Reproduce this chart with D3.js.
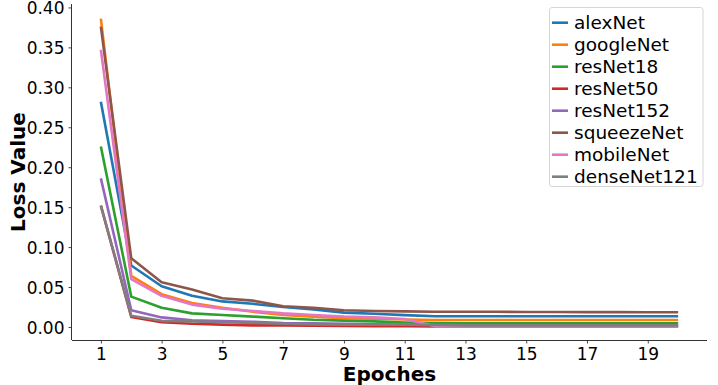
<!DOCTYPE html>
<html>
<head>
<meta charset="utf-8">
<script src="https://cdn.jsdelivr.net/npm/d3@7"></script>
<style>
  html, body { margin: 0; padding: 0; background: #fff; }
  svg { display: block; }
</style>
</head>
<body>
<svg id="chart" width="718" height="385"></svg>
<script>
const epochs = d3.range(1, 21);
const xTicks = [1, 3, 5, 7, 9, 11, 13, 15, 17, 19];
const yTicks = [0, 0.05, 0.10, 0.15, 0.20, 0.25, 0.30, 0.35, 0.40];
const seriesNames = ["alexNet", "googleNet", "resNet18", "resNet50", "resNet152", "squeezeNet", "mobileNet", "denseNet121"];
const colors = ["#1f77b4", "#ff7f0e", "#2ca02c", "#d62728", "#9467bd", "#8c564b", "#e377c2", "#7f7f7f"];

const alexNet     = [0.282, 0.077, 0.051, 0.039, 0.032, 0.029, 0.025, 0.022, 0.018, 0.0165, 0.0148, 0.0135, 0.0135, 0.0135, 0.0135, 0.0135, 0.0135, 0.0135, 0.0135, 0.0135];
const googleNet   = [0.386, 0.064, 0.041, 0.030, 0.024, 0.019, 0.015, 0.013, 0.011, 0.0105, 0.0094, 0.0088, 0.0087, 0.0087, 0.0087, 0.0087, 0.0087, 0.0087, 0.0087, 0.0087];
const resNet18    = [0.226, 0.038, 0.024, 0.017, 0.015, 0.013, 0.011, 0.009, 0.008, 0.007, 0.0056, 0.0048, 0.0046, 0.0045, 0.0045, 0.0045, 0.0045, 0.0045, 0.0045, 0.0045];
const resNet50    = [0.152, 0.0125, 0.006, 0.004, 0.003, 0.002, 0.002, 0.0015, 0.0012, 0.001, 0.001, 0.0008, 0.0008, 0.0008, 0.0008, 0.0008, 0.0008, 0.0008, 0.0008, 0.0008];
const resNet152   = [0.186, 0.021, 0.012, 0.0085, 0.0075, 0.0065, 0.005, 0.0045, 0.004, 0.0035, 0.003, 0.0025, 0.002, 0.002, 0.002, 0.002, 0.002, 0.002, 0.002, 0.002];
const squeezeNet  = [0.376, 0.086, 0.056, 0.047, 0.036, 0.033, 0.026, 0.024, 0.021, 0.020, 0.0195, 0.019, 0.019, 0.019, 0.0188, 0.0188, 0.0186, 0.0186, 0.0185, 0.0185];
const mobileNet   = [0.347, 0.060, 0.039, 0.028, 0.023, 0.020, 0.017, 0.015, 0.013, 0.012, 0.010, 0.0008, 0.0006, 0.0006, 0.0006, 0.0006, 0.0006, 0.0006, 0.0006, 0.0006];
const denseNet121 = [0.152, 0.014, 0.0077, 0.007, 0.006, 0.005, 0.004, 0.0032, 0.003, 0.003, 0.0028, 0.0025, 0.002, 0.002, 0.002, 0.002, 0.002, 0.002, 0.002, 0.002];

const seriesValues = [alexNet, googleNet, resNet18, resNet50, resNet152, squeezeNet, mobileNet, denseNet121];

const svg = d3.select("#chart");
const mLeft = 72, mRight = 707, mTop = 4, mBottom = 340;

const x = d3.scaleLinear().domain([0.05, 20.95]).range([mLeft, mRight]);
const y = d3.scaleLinear().domain([-0.0163, 0.4043]).range([mBottom, mTop]);

const font = "DejaVu Sans, sans-serif";
const axisColor = "#333";

// Lines
const line = d3.line().x((d, i) => x(epochs[i])).y(d => y(d));
const g = svg.append("g");
seriesValues.forEach((vals, k) => {
  g.append("path")
    .datum(vals)
    .attr("fill", "none")
    .attr("stroke", colors[k])
    .attr("stroke-width", 2.6)
    .attr("stroke-linejoin", "round")
    .attr("stroke-linecap", "butt")
    .attr("d", line);
});

// Axes
const xAxis = d3.axisBottom(x).tickValues(xTicks).tickFormat(d3.format("d")).tickSize(3.5).tickPadding(4);
const yAxis = d3.axisLeft(y).tickValues(yTicks).tickFormat(d3.format(".2f")).tickSize(3.5).tickPadding(4);

const gx = svg.append("g").attr("transform", `translate(0,${mBottom})`).call(xAxis);
const gy = svg.append("g").attr("transform", `translate(${mLeft},0)`).call(yAxis);

gx.select(".domain").attr("stroke", axisColor).attr("stroke-width", 1).attr("d", `M${mLeft},0.5H${mRight}`);
gy.select(".domain").attr("stroke", axisColor).attr("stroke-width", 1).attr("d", `M-0.5,${mTop}V${mBottom}`);
[gx, gy].forEach(a => {
  a.selectAll(".tick line").attr("stroke", axisColor).attr("stroke-width", 0.9);
  a.selectAll(".tick text").attr("fill", "#000").style("font-family", font).style("font-size", "17px");
});
gx.selectAll(".tick text").attr("dy", "0.72em");
gy.selectAll(".tick text").attr("dy", "0.36em");

// Axis labels
svg.append("text")
  .attr("x", (mLeft + mRight) / 2).attr("y", 381)
  .attr("text-anchor", "middle")
  .style("font-family", font).style("font-size", "20px").style("font-weight", "bold")
  .text("Epoches");

svg.append("text")
  .attr("transform", `translate(25,${(mTop + mBottom) / 2}) rotate(-90)`)
  .attr("text-anchor", "middle")
  .style("font-family", font).style("font-size", "20px").style("font-weight", "bold")
  .text("Loss Value");

// Legend
const lg = svg.append("g");
lg.append("rect")
  .attr("x", 549.5).attr("y", 7.5).attr("width", 153.5).attr("height", 179)
  .attr("rx", 2.5)
  .attr("fill", "#fff").attr("fill-opacity", 0.8)
  .attr("stroke", "#d6d6d6").attr("stroke-width", 1);
seriesNames.forEach((name, k) => {
  const cy = 22.7 + k * 22;
  lg.append("line")
    .attr("x1", 552).attr("x2", 568).attr("y1", cy).attr("y2", cy)
    .attr("stroke", colors[k]).attr("stroke-width", 2.6);
  lg.append("text")
    .attr("x", 574).attr("y", cy).attr("dy", "0.36em")
    .style("font-family", font).style("font-size", "18.5px")
    .attr("fill", "#000")
    .text(name);
});
</script>
</body>
</html>
